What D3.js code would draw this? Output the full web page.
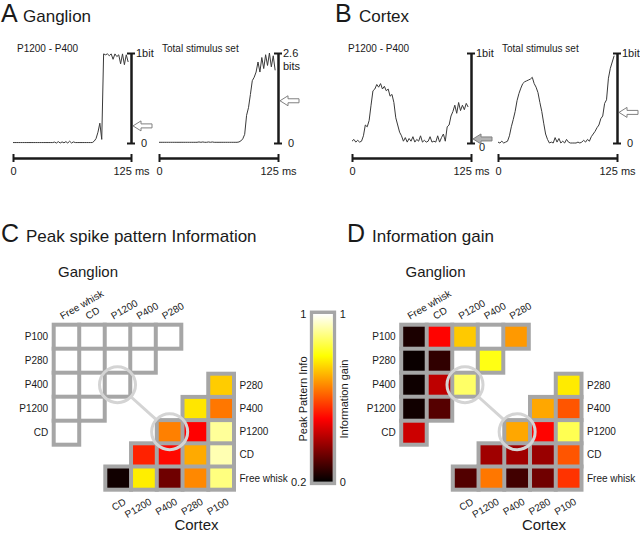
<!DOCTYPE html>
<html>
<head>
<meta charset="utf-8">
<script src="https://cdn.jsdelivr.net/npm/d3@7"></script>
<style>
  body { margin: 0; background: #fff; }
  svg { display: block; font-family: "Liberation Sans", Arial, sans-serif; }
</style>
</head>
<body>
<script>
// ---- data ----
var timesMs = [0,2,4,6,8,10,12,14,16,18,20,22,24,26,28,30,32,34,36,38,40,42,44,46,48,50,52,54,56,58,60,
  62,64,66,68,70,72,74,76,78,80,82,84,86,88,90,92,94,96,98,100,102,104,106,108,110,112,114,116,118,120,122];

// ganglion, P1200 vs P400 (bits)
var ganglionPair = [0.005,0.005,0.005,0.005,0.005,0.005,0.005,0.005,0.005,0.005,0.005,0.005,0.005,0.005,0.005,0.005,
  0.005,0.005,0.005,0.005,0.005,0.005,
  0.01,0.0,0.015,0.0,0.012,0.002,0.015,0.0,0.02,0.0,0.012,0.005,0.005,
  0.005,0.005,0.005,0.005,0.005,0.005,0.005,0.005,
  0.02,0.05,0.12,0.22,0.04,0.99,0.98,0.99,0.97,0.99,0.93,0.99,0.96,0.98,0.88,0.99,0.87,0.98,0.9];
// ganglion, total stimulus set (bits)
var ganglionTotal = [0.02,0.02,0.02,0.02,0.02,0.02,0.02,0.02,0.02,0.02,0.02,0.02,0.02,0.02,0.02,0.02,0.02,0.02,0.02,0.02,
  0.02,0.03,0.02,0.03,0.02,0.02,0.03,0.02,0.03,0.02,0.02,0.02,0.02,0.02,0.02,0.02,0.02,0.02,0.02,0.02,0.02,
  0.02,0.03,0.06,0.12,0.25,0.8,1.02,1.4,1.8,1.9,2.05,2.34,2.05,2.47,2.15,2.55,2.24,2.6,2.2,2.52,2.1];
// cortex, P1200 vs P400 (bits)
var cortexPair = [0.02,0.04,0.01,0.03,0.01,0.02,0.08,0.2,0.18,0.25,0.42,0.58,0.6,0.65,0.62,0.66,0.6,0.63,0.58,0.6,
  0.52,0.54,0.45,0.28,0.2,0.12,0.08,0.02,0.06,0.01,0.05,0.02,0.07,0.01,0.04,0.02,0.08,0.01,0.03,0.01,
  0.02,0.07,0.01,0.02,0.01,0.08,0.01,0.06,0.1,0.02,0.18,0.2,0.3,0.35,0.42,0.33,0.45,0.36,0.42,0.37,0.44,0.4];
// cortex, total stimulus set (bits)
var cortexTotal = [0.01,0,0.02,0,0.01,0.02,0.08,0.18,0.26,0.35,0.47,0.55,0.61,0.66,0.68,0.69,0.7,0.71,0.73,0.66,
  0.62,0.56,0.45,0.35,0.22,0.1,0.04,0,0.01,0,0.06,0.01,0.05,0,0.02,0,0.04,0.01,0,0,
  0,0,0.01,0,0.01,0.03,0.01,0.04,0.02,0.07,0.1,0.13,0.17,0.2,0.27,0.3,0.44,0.48,0.72,0.83,0.9,0.97];

var traceMax = [1, 2.6, 1, 1];
var arrowLevels = [0.19, 1.22, 0.045, 0.34];

var ganglionRows = ["P100", "P280", "P400", "P1200", "CD"];
var ganglionCols = ["Free whisk", "CD", "P1200", "P400", "P280"];
var cortexRows = ["P280", "P400", "P1200", "CD", "Free whisk"];
var cortexCols = ["CD", "P1200", "P400", "P280", "P100"];

// peak spike pattern information (0.2 .. 1)
var peakGanglion = [
  [1, 1, 1, 1, 1],
  [1, 1, 1, 1, null],
  [1, 1, 1, null, null],
  [1, 1, null, null, null],
  [1, null, null, null, null]];
var peakCortex = [
  [null, null, null, null, 0.74],
  [null, null, null, 0.77, 0.64],
  [null, null, 0.65, 0.50, 0.92],
  [null, 0.54, 0.51, 0.70, 0.94],
  [0.22, 0.78, 0.33, 0.66, 0.90]];
// information gain (0 .. 1)
var gainGanglion = [
  [0.04, 0.38, 0.67, 1.0, 0.6],
  [0.015, 0.07, 1.0, 0.77, null],
  [0.02, 0.28, 0.85, null, null],
  [0.025, 0.125, null, null, null],
  [0.3, null, null, null, null]];
var gainCortex = [
  [null, null, null, null, 0.72],
  [null, null, null, 0.62, 0.5],
  [null, null, 0.62, 0.38, 0.83],
  [null, 0.235, 0.235, 0.225, 0.5],
  [0.12, 0.55, 0.095, 0.165, 0.45]];

// ---- drawing ----
var W = 640, H = 537;
var ink = "#1a1a1a";
var svg = d3.select("body").append("svg").attr("width", W).attr("height", H);

// panel headings
function heading(x, y, letter, name, gap) {
  svg.append("text").attr("x", x).attr("y", y).attr("font-size", 25).attr("fill", ink).text(letter);
  svg.append("text").attr("x", x + gap).attr("y", y).attr("font-size", 17).attr("fill", ink).text(name);
}
heading(1, 22, "A", "Ganglion", 22);
heading(335, 22, "B", "Cortex", 24);
heading(1, 242, "C", "Peak spike pattern Information", 25);
heading(347, 242, "D", "Information gain", 25);

// ---- information time courses ----
var traceSeries = [ganglionPair, ganglionTotal, cortexPair, cortexTotal];
var tracePanels = [
  { x0: 13, x1: 131, title: "P1200 - P400", tx: 17 },
  { x0: 159, x1: 278, title: "Total stimulus set", tx: 162 },
  { x0: 352, x1: 471, title: "P1200 - P400", tx: 348 },
  { x0: 498, x1: 617, title: "Total stimulus set", tx: 502 }];

tracePanels.forEach(function (p, k) {
  var max = traceMax[k];
  var x = d3.scaleLinear().domain([0, 125]).range([p.x0, p.x1]);
  var y = d3.scaleLinear().domain([0, max]).range([143, 53]);
  var g = svg.append("g");

  g.append("text").attr("x", p.tx).attr("y", 52).attr("font-size", 10).attr("fill", ink).text(p.title);

  var line = d3.line()
    .x(function (d, i) { return x(timesMs[i]); })
    .y(function (d) { return y(d); });
  g.append("path").datum(traceSeries[k])
    .attr("d", line).attr("fill", "none").attr("stroke", "#3a3a3a").attr("stroke-width", 1);

  // vertical information scale bar
  var vAxis = d3.axisRight(y).tickValues([0, max]).tickSizeInner(4).tickSizeOuter(0)
    .tickFormat(function (d) { return d === 0 ? "0" : (max === 1 ? "1bit" : "2.6"); });
  var va = g.append("g").attr("transform", "translate(" + p.x1 + ",0)").call(vAxis);
  va.select(".domain").attr("stroke", ink).attr("stroke-width", 2.5);
  va.selectAll(".tick line").attr("x1", -4).attr("x2", 4).attr("stroke", ink).attr("stroke-width", 2);
  va.selectAll(".tick text").attr("font-size", 11).attr("font-family", null).attr("fill", ink)
    .attr("x", function (d) { return d === 0 ? (k === 2 ? 8 : 10) : 5; })
    .attr("dy", function (d) { return d === 0 && k === 2 ? "0.65em" : "0.32em"; });
  if (max !== 1) {
    va.selectAll(".tick text").filter(function (d) { return d !== 0; })
      .append("tspan").attr("x", 5).attr("dy", "1.15em").text("bits");
  }

  // horizontal time scale bar
  var tAxis = d3.axisBottom(x).tickValues([0, 125]).tickSizeInner(4).tickSizeOuter(0).tickPadding(5)
    .tickFormat(function (d) { return d === 0 ? "0" : "125 ms"; });
  var ta = g.append("g").attr("transform", "translate(0,158)").call(tAxis);
  ta.select(".domain").attr("stroke", ink).attr("stroke-width", 2.5);
  ta.selectAll(".tick line").attr("y1", -4).attr("y2", 4).attr("stroke", ink).attr("stroke-width", 2);
  ta.selectAll(".tick text").attr("font-size", 11).attr("font-family", null).attr("fill", ink);

  // level arrow
  var ax = p.x1 + 2, ay = y(arrowLevels[k]);
  var pts = [[0, 0], [8, -5], [8, -2], [19, -2], [19, 2], [8, 2], [8, 5]]
    .map(function (q) { return (ax + q[0]) + "," + (ay + q[1]); }).join(" ");
  g.append("polygon").attr("points", pts)
    .attr("fill", k === 2 ? "#b4b4b4" : "#fff").attr("stroke", "#808080").attr("stroke-width", 1);
});

// ---- matrices ----
var hot = d3.scaleLinear().domain([0, 0.375, 0.75, 1])
  .range(["#000000", "#ff0000", "#ffff00", "#ffffff"]).clamp(true);
var peakToUnit = d3.scaleLinear().domain([0.2, 1]).range([0, 1]);
var border = 4, gridGrey = "#a6a6a6";

function makeGrid(rows, cols, box) {
  var nx = cols.length, ny = rows.length;
  var sx = (box.right - box.left - border) / nx, sy = (box.bottom - box.top - border) / ny;
  return {
    x: d3.scaleBand().domain(cols).range([box.left, box.right]).paddingInner(border / sx).paddingOuter(border / sx),
    y: d3.scaleBand().domain(rows).range([box.top, box.bottom]).paddingInner(border / sy).paddingOuter(border / sy)
  };
}

function drawGrid(rows, cols, vals, box, colorOf, isGanglion) {
  var s = makeGrid(rows, cols, box);
  var cells = [];
  vals.forEach(function (r, i) {
    r.forEach(function (v, j) { if (v !== null) cells.push({ row: rows[i], col: cols[j], v: v }); });
  });
  var g = svg.append("g");
  g.selectAll("rect.bg").data(cells).enter().append("rect").attr("class", "bg")
    .attr("x", function (d) { return s.x(d.col) - border; })
    .attr("y", function (d) { return s.y(d.row) - border; })
    .attr("width", s.x.bandwidth() + 2 * border)
    .attr("height", s.y.bandwidth() + 2 * border)
    .attr("fill", gridGrey);
  g.selectAll("rect.cell").data(cells).enter().append("rect").attr("class", "cell")
    .attr("x", function (d) { return s.x(d.col); })
    .attr("y", function (d) { return s.y(d.row); })
    .attr("width", s.x.bandwidth())
    .attr("height", s.y.bandwidth())
    .attr("fill", function (d) { return colorOf(d.v); });

  // row labels
  g.selectAll("text.row").data(rows).enter().append("text").attr("class", "row")
    .attr("x", isGanglion ? box.left - 3.5 : box.right + 3.5)
    .attr("y", function (d) { return s.y(d) + s.y.bandwidth() / 2; })
    .attr("dy", "0.35em")
    .attr("text-anchor", isGanglion ? "end" : "start")
    .attr("font-size", 10).attr("fill", ink).text(function (d) { return d; });
  // column labels, slanted
  g.selectAll("text.col").data(cols).enter().append("text").attr("class", "col")
    .attr("transform", function (d) {
      var cx = s.x(d) + s.x.bandwidth() / 2;
      return isGanglion
        ? "translate(" + (cx - 4) + "," + (box.top - 3) + ") rotate(-30)"
        : "translate(" + (cx + 5) + "," + (box.bottom + 6) + ") rotate(-30)";
    })
    .attr("dy", isGanglion ? 0 : "0.7em")
    .attr("text-anchor", isGanglion ? "start" : "end")
    .attr("font-size", 10).attr("fill", ink).text(function (d) { return d; });
  return s;
}

function matrixPanel(dx, gVals, cVals, colorOf) {
  var gBox = { left: 51.7 + dx, top: 322.7, right: 183.3 + dx, bottom: 446.7 };
  var cBox = { left: 103.3 + dx, top: 371.7, right: 236 + dx, bottom: 491.7 };
  var gs = drawGrid(ganglionRows, ganglionCols, gVals, gBox, colorOf, true);
  var cs = drawGrid(cortexRows, cortexCols, cVals, cBox, colorOf, false);

  svg.append("text").attr("x", 58 + dx).attr("y", 277).attr("font-size", 15).attr("fill", ink).text("Ganglion");
  svg.append("text").attr("x", 196.5 + dx).attr("y", 530).attr("text-anchor", "middle")
    .attr("font-size", 15).attr("fill", ink).text("Cortex");

  // highlighted pair: P1200 vs P400
  var c1 = [gs.x("P1200") + gs.x.bandwidth() / 2, gs.y("P400") + gs.y.bandwidth() / 2];
  var c2 = [cs.x("P400") + cs.x.bandwidth() / 2, cs.y("P1200") + cs.y.bandwidth() / 2];
  var r = 18, len = Math.hypot(c2[0] - c1[0], c2[1] - c1[1]);
  var ux = (c2[0] - c1[0]) / len, uy = (c2[1] - c1[1]) / len;
  var hl = svg.append("g").attr("fill", "none").attr("stroke", "#d4d4d4").attr("stroke-width", 3);
  hl.append("line").attr("x1", c1[0] + ux * r).attr("y1", c1[1] + uy * r)
    .attr("x2", c2[0] - ux * r).attr("y2", c2[1] - uy * r);
  [c1, c2].forEach(function (c) { hl.append("circle").attr("cx", c[0]).attr("cy", c[1]).attr("r", r); });
}

matrixPanel(0, peakGanglion, peakCortex, function (v) { return hot(peakToUnit(v)); });
matrixPanel(347.5, gainGanglion, gainCortex, function (v) { return hot(v); });

// ---- colour bar ----
var defs = svg.append("defs");
var grad = defs.append("linearGradient").attr("id", "hotGrad")
  .attr("x1", 0).attr("y1", 1).attr("x2", 0).attr("y2", 0);
grad.selectAll("stop").data(hot.domain()).enter().append("stop")
  .attr("offset", function (d) { return d; })
  .attr("stop-color", function (d) { return hot(d); });

var barY = d3.scaleLinear().domain([0, 1]).range([481.7, 314]);
var barPeak = d3.scaleLinear().domain([0.2, 1]).range([481.7, 314]);
var barL = 313.3, barR = 332.7;
svg.append("rect").attr("x", barL - 1.7).attr("y", barY(1) - 1.7)
  .attr("width", barR - barL + 3.4).attr("height", barY(0) - barY(1) + 3.4)
  .attr("fill", "none").attr("stroke", gridGrey).attr("stroke-width", 3.5);
svg.append("rect").attr("x", barL).attr("y", barY(1))
  .attr("width", barR - barL).attr("height", barY(0) - barY(1)).attr("fill", "url(#hotGrad)");

var lAx = svg.append("g").attr("transform", "translate(" + (barL - 5) + ",0)")
  .call(d3.axisLeft(barPeak).tickValues([0.2, 1]).tickSize(0).tickPadding(2)
    .tickFormat(function (d) { return d === 1 ? "1" : "0.2"; }));
var rAx = svg.append("g").attr("transform", "translate(" + (barR + 5) + ",0)")
  .call(d3.axisRight(barY).tickValues([0, 1]).tickSize(0).tickPadding(2)
    .tickFormat(d3.format("d")));
[lAx, rAx].forEach(function (a) {
  a.select(".domain").remove();
  a.selectAll(".tick text").attr("font-size", 11).attr("font-family", null).attr("fill", ink);
});

svg.append("text").attr("transform", "translate(306.5,399) rotate(-90)")
  .attr("text-anchor", "middle").attr("font-size", 11).attr("fill", ink).text("Peak Pattern Info");
svg.append("text").attr("transform", "translate(347.5,399) rotate(-90)")
  .attr("text-anchor", "middle").attr("font-size", 11).attr("fill", ink).text("Information gain");
</script>
</body>
</html>
